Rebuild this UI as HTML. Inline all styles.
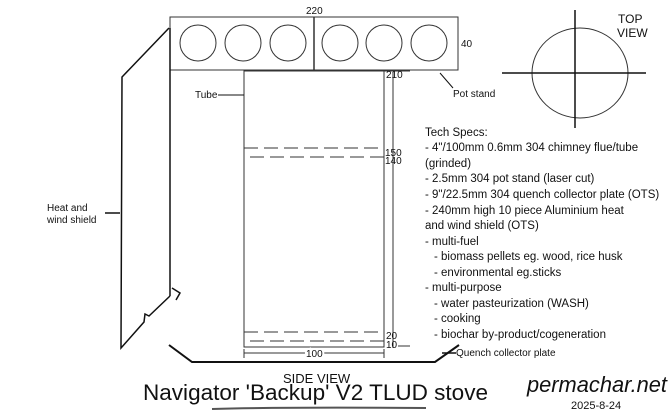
<!DOCTYPE html>
<html><head><style>
body{margin:0;width:670px;height:419px;background:#fff;overflow:hidden}
svg{display:block}
text{font-family:"Liberation Sans",sans-serif;fill:#111}
</style></head><body>
<svg width="670" height="419" viewBox="0 0 670 419">
<g fill="none" stroke="#333" stroke-width="1">
<rect x="170" y="17" width="288" height="53"/>
<line x1="314" y1="17" x2="314" y2="70" stroke-width="1.5"/>
<circle cx="198" cy="43" r="18"/><circle cx="243" cy="43" r="18"/><circle cx="288" cy="43" r="18"/>
<circle cx="340" cy="43" r="18"/><circle cx="384" cy="43" r="18"/><circle cx="429" cy="43" r="18"/>
<rect x="244" y="71" width="140" height="276"/>
<line x1="393" y1="72" x2="393" y2="348"/>
<line x1="384" y1="71" x2="410" y2="71"/>
<line x1="244" y1="148" x2="384" y2="148" stroke-dasharray="14,6"/>
<line x1="250" y1="157" x2="384" y2="157" stroke-dasharray="14,6"/>
<line x1="244" y1="332" x2="384" y2="332" stroke-dasharray="14,6"/>
<line x1="250" y1="341" x2="384" y2="341" stroke-dasharray="14,6"/>
<line x1="398" y1="346" x2="410" y2="346"/>
<line x1="244" y1="353" x2="384" y2="353"/>
<line x1="244" y1="349" x2="244" y2="358"/><line x1="384" y1="349" x2="384" y2="358"/>
<line x1="218" y1="95" x2="244" y2="95" stroke="#111"/>
<line x1="440" y1="73" x2="453" y2="88" stroke="#111"/>
<ellipse cx="580" cy="73" rx="48" ry="45"/>
</g>
<g fill="none" stroke="#111" stroke-width="1.5">
<polyline points="169,345 192,362 435,362 459,345" stroke-width="2"/>
<line x1="442" y1="353" x2="456" y2="353"/>
<polyline points="169,28 122,77 121,348 144,322 145,314 149,316 170,296"/>
<line x1="170" y1="28" x2="170" y2="296"/>
<polyline points="172,288 180,293 176,300"/>
<line x1="105" y1="213" x2="120" y2="213"/>
<line x1="502" y1="73" x2="646" y2="73"/>
<line x1="575" y1="10" x2="575" y2="128"/>
</g>
<path d="M212 409 Q280 407 426 408" stroke="#555" stroke-width="2" fill="none"/>
<g font-size="10">
<text x="306" y="14">220</text>
<text x="461" y="47">40</text>
<text x="386" y="78">210</text>
<text x="385" y="156">150</text>
<text x="385" y="164">140</text>
<text x="386" y="339">20</text>
<text x="386" y="348">10</text>
<text x="306" y="357" fill="#fff" stroke="#fff" stroke-width="4">100</text>
<text x="306" y="357">100</text>
<text x="195" y="98">Tube</text>
<text x="453" y="97">Pot stand</text>
<text x="47" y="211">Heat and</text>
<text x="47" y="223">wind shield</text>
<text x="456" y="356">Quench collector plate</text>
</g>
<g font-size="11.5">
<text x="425" y="136">Tech Specs:</text>
<text x="425" y="151">- 4"/100mm 0.6mm 304 chimney flue/tube</text>
<text x="425" y="167">(grinded)</text>
<text x="425" y="182">- 2.5mm 304 pot stand (laser cut)</text>
<text x="425" y="198">- 9"/22.5mm 304 quench collector plate (OTS)</text>
<text x="425" y="214">- 240mm high 10 piece Aluminium heat</text>
<text x="425" y="229">and wind shield (OTS)</text>
<text x="425" y="245">- multi-fuel</text>
<text x="434" y="260">- biomass pellets eg. wood, rice husk</text>
<text x="434" y="276">- environmental eg.sticks</text>
<text x="425" y="291">- multi-purpose</text>
<text x="434" y="307">- water pasteurization (WASH)</text>
<text x="434" y="322">- cooking</text>
<text x="434" y="338">- biochar by-product/cogeneration</text>
</g>
<text x="283" y="383" font-size="13">SIDE VIEW</text>
<text x="143" y="400" font-size="22" textLength="345" lengthAdjust="spacingAndGlyphs">Navigator 'Backup' V2 TLUD stove</text>
<text x="618" y="23" font-size="12">TOP</text>
<text x="617" y="37" font-size="12">VIEW</text>
<text x="527" y="392" font-size="22" font-style="italic" font-family="Liberation Serif" textLength="140" lengthAdjust="spacingAndGlyphs">permachar.net</text>
<text x="571" y="409" font-size="11">2025-8-24</text>
</svg>
</body></html>
